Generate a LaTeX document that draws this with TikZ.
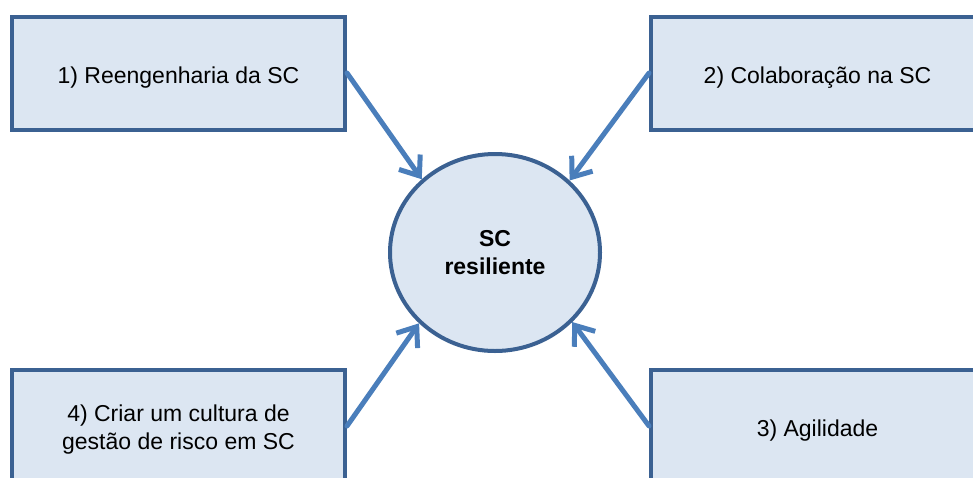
\documentclass[tikz,border=0pt]{standalone}
\usepackage{fontspec}
\setmainfont{Liberation Sans}
\usetikzlibrary{shapes.geometric,arrows.meta}
\definecolor{boxfill}{HTML}{DCE6F2}
\definecolor{boxline}{HTML}{3B6192}
\definecolor{arrowblue}{HTML}{4A7EBB}
\begin{document}
\begin{tikzpicture}[x=1pt,y=-1pt,
  factor/.style={draw=boxline, fill=boxfill, line width=4pt,
    minimum width=333pt, minimum height=113pt, inner sep=0pt,
    text height=22pt, text depth=2pt,
    align=center, font=\fontsize{23}{28}\selectfont},
  twolines/.style={text height=, text depth=},
  core/.style={ellipse, draw=boxline, fill=boxfill, line width=4pt,
    minimum width=210pt, minimum height=197pt, inner sep=0pt,
    align=center, font=\fontsize{23}{28}\selectfont\bfseries},
  link/.style={draw=arrowblue, line width=5pt, line cap=round,
    -{Straight Barb[length=17pt,width=26pt]}}]
\useasboundingbox (0,0) rectangle (973,477);
\clip (0,0) rectangle (973,477);

% the four building blocks
\node[factor] (reeng) at (178.5,73)  {1) Reengenharia da SC};
\node[factor] (colab) at (817.5,73)  {2) Colaboração na SC};
\node[factor] (agil)  at (817.5,426) {3) Agilidade};
\node[factor, twolines] (cult) at (178.5,426)
  {\rule{0pt}{23pt}4) Criar um cultura de\\gestão de risco em SC};

% the central goal
\node[core] (sc) at (495,252.5) {SC\\resiliente};

% each block feeds the resilient supply chain
\draw[link] (reeng.east) -- (sc.135);
\draw[link] (colab.west) -- (sc.44);
\draw[link] (agil.west)  -- (sc.318);
\draw[link] (cult.east)  -- (sc.223);
\end{tikzpicture}
\end{document}
